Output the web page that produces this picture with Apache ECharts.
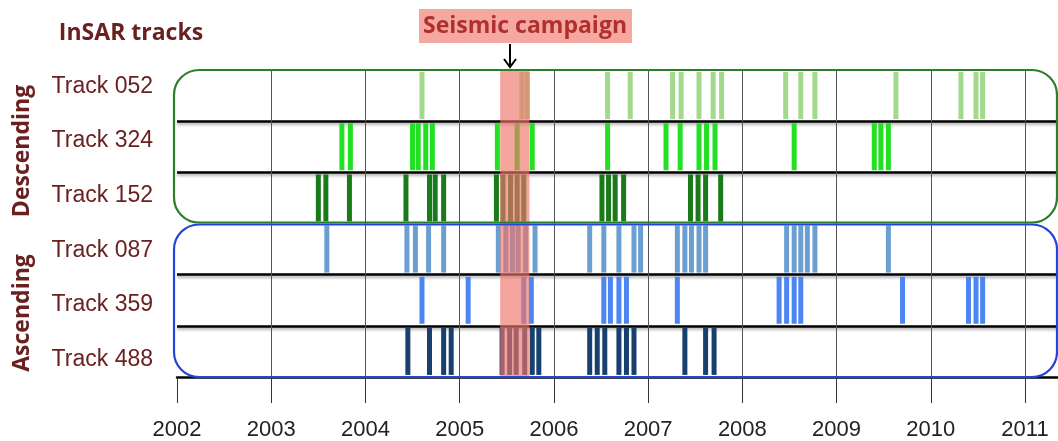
<!DOCTYPE html>
<html><head><meta charset="utf-8">
<script src="https://cdn.jsdelivr.net/npm/echarts@6/dist/echarts.min.js"></script>
<style>html,body{margin:0;padding:0;background:#fff}#c{width:1058px;height:441px}</style>
</head><body><div id="c"></div>
<script>
// ---- data ----
const tracks = ['Track 052', 'Track 324', 'Track 152', 'Track 087', 'Track 359', 'Track 488'];
const track052 = [2004.60, 2005.66, 2005.72, 2006.57, 2006.81, 2007.26, 2007.35, 2007.54, 2007.69, 2007.78, 2008.46, 2008.62, 2008.77, 2009.63, 2010.32, 2010.48, 2010.55];
const track324 = [2003.75, 2003.84, 2004.50, 2004.56, 2004.64, 2004.71, 2005.40, 2005.61, 2005.77, 2006.57, 2007.19, 2007.34, 2007.54, 2007.62, 2007.71, 2008.55, 2009.40, 2009.47, 2009.55];
const track152 = [2003.50, 2003.58, 2003.83, 2004.43, 2004.68, 2004.74, 2004.83, 2005.39, 2005.46, 2005.54, 2005.61, 2005.68, 2006.51, 2006.58, 2006.65, 2006.74, 2007.45, 2007.53, 2007.61, 2007.77];
const track087 = [2003.59, 2004.44, 2004.53, 2004.67, 2004.83, 2005.41, 2005.49, 2005.56, 2005.62, 2005.70, 2005.80, 2006.38, 2006.53, 2006.69, 2006.85, 2006.92, 2007.31, 2007.39, 2007.46, 2007.54, 2007.61, 2008.47, 2008.55, 2008.62, 2008.69, 2008.77, 2009.55];
const track359 = [2004.60, 2005.09, 2005.68, 2005.76, 2006.53, 2006.60, 2006.69, 2006.77, 2007.31, 2008.39, 2008.47, 2008.55, 2008.62, 2009.70, 2010.40, 2010.48, 2010.55];
const track488 = [2004.45, 2004.68, 2004.83, 2004.91, 2005.45, 2005.53, 2005.60, 2005.69, 2005.77, 2005.84, 2006.38, 2006.46, 2006.54, 2006.69, 2006.77, 2006.85, 2007.39, 2007.61, 2007.70];
const seismicCampaign = [2005.43, 2005.74];
const groups = ['Descending', 'Ascending'];
const titleText = 'InSAR tracks';
const campaignLabel = 'Seismic campaign';

// ---- styles ----
const trackData = [track052, track324, track152, track087, track359, track488];
const trackColors = ['#a3d98c', '#22e022', '#1a7a1a', '#6b9fd2', '#4d86f2', '#17406e'];
const maroon = '#6b2020';

const chart = echarts.init(document.getElementById('c'), null, {renderer: 'canvas'});

const series = tracks.map((name, i) => ({
  type: 'scatter',
  name: name,
  xAxisIndex: 0, yAxisIndex: 0,
  symbol: 'rect',
  symbolSize: [5, 47],
  itemStyle: {color: trackColors[i], opacity: 1},
  silent: true,
  z: 3,
  data: trackData[i].map(v => [v, name])
}));

series.push({
  type: 'scatter',
  xAxisIndex: 0, yAxisIndex: 0,
  data: [],
  silent: true,
  markArea: {
    silent: true,
    z: 10,
    itemStyle: {color: 'rgba(238,116,104,0.65)'},
    data: [[{xAxis: seismicCampaign[0]}, {xAxis: seismicCampaign[1]}]]
  }
});

const option = {
  backgroundColor: '#fff',
  animation: false,
  grid: [
    {left: 177, right: 0, top: 70, bottom: 64, containLabel: false},
    {left: 158, width: 1, top: 59, bottom: 54, containLabel: false}
  ],
  xAxis: [
    {
      type: 'value', gridIndex: 0,
      min: 2002, max: 2011.35, interval: 1,
      axisLine: {show: true, lineStyle: {color: '#000', width: 2.5}},
      axisTick: {show: true, length: 26, lineStyle: {color: '#333', width: 1}},
      axisLabel: {
        show: true, margin: 42, showMaxLabel: false,
        fontFamily: '"Liberation Sans", Arial, sans-serif',
        fontSize: 22, color: '#222',
        formatter: v => (Math.abs(v - Math.round(v)) < 1e-6 ? String(Math.round(v)) : '')
      },
      splitLine: {show: true, showMinLine: false, showMaxLine: false, lineStyle: {color: '#555', width: 1}}
    },
    {type: 'value', gridIndex: 1, show: false}
  ],
  yAxis: [
    {
      type: 'category', gridIndex: 0, data: tracks, inverse: true,
      axisLine: {show: false}, axisTick: {show: false}, axisLabel: {show: false},
      splitLine: {
        show: true, showMinLine: false, showMaxLine: false,
        interval: (idx) => idx !== 3,
        lineStyle: {color: '#000', width: 2.5, shadowColor: 'rgba(0,0,0,0.35)', shadowBlur: 3, shadowOffsetY: 2}
      }
    },
    {
      type: 'category', gridIndex: 1, data: tracks, inverse: true,
      axisLine: {show: false}, axisTick: {show: false}, splitLine: {show: false},
      axisLabel: {show: true, margin: 5, align: 'right', color: maroon, fontSize: 23, fontFamily: '"Liberation Sans", Arial, sans-serif'}
    }
  ],
  graphic: [
    {type: 'rect', z: 20, silent: true, shape: {x: 174, y: 70, width: 883, height: 152.5, r: 25},
     style: {fill: 'none', stroke: '#2b7f2b', lineWidth: 2.2}},
    {type: 'rect', z: 19, silent: true, shape: {x: 174, y: 224.5, width: 883, height: 152.5, r: 25},
     style: {fill: 'none', stroke: '#2244dd', lineWidth: 2.2}},
    {type: 'text', z: 30, silent: true, x: 131, y: 33,
     style: {text: titleText, fill: maroon, font: 'bold 23px "Open Sans", sans-serif', textAlign: 'center', textVerticalAlign: 'middle'}},
    {type: 'text', z: 30, silent: true, x: 22, y: 151, rotation: Math.PI / 2,
     style: {text: groups[0], fill: maroon, font: 'bold 23px "Open Sans", sans-serif', textAlign: 'center', textVerticalAlign: 'middle'}},
    {type: 'text', z: 30, silent: true, x: 22, y: 313, rotation: Math.PI / 2,
     style: {text: groups[1], fill: maroon, font: 'bold 23px "Open Sans", sans-serif', textAlign: 'center', textVerticalAlign: 'middle'}},
    {type: 'rect', z: 30, silent: true, shape: {x: 419, y: 9, width: 213, height: 34},
     style: {fill: '#f5a8a0'}},
    {type: 'text', z: 31, silent: true, x: 525, y: 26,
     style: {text: campaignLabel, fill: '#b03030', font: 'bold 23px "Open Sans", sans-serif', textAlign: 'center', textVerticalAlign: 'middle'}},
    {type: 'line', z: 31, silent: true, shape: {x1: 510, y1: 44, x2: 510, y2: 67},
     style: {stroke: '#000', lineWidth: 2}},
    {type: 'polyline', z: 31, silent: true, shape: {points: [[504, 59], [510, 67], [516, 59]]},
     style: {stroke: '#000', lineWidth: 2, fill: 'none'}}
  ],
  series: series
};
chart.setOption(option);
</script>
</body></html>
